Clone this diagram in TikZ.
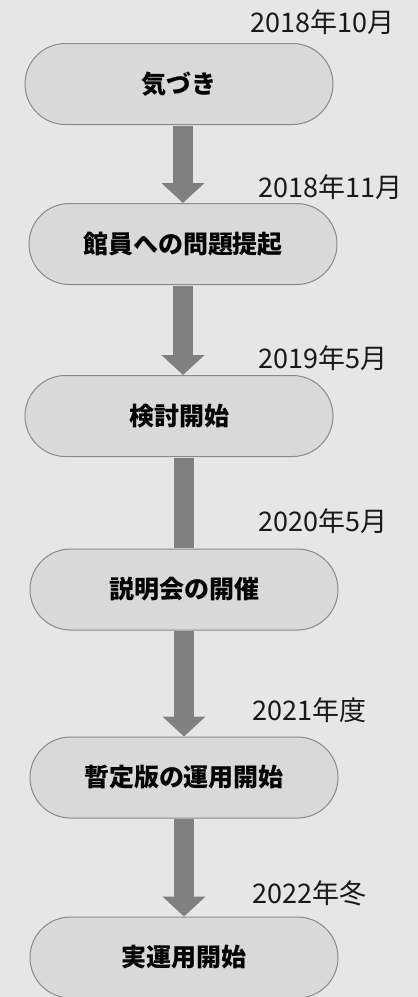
\documentclass[tikz,border=0pt]{standalone}
\usepackage{fontspec}
\setmainfont{Noto Sans CJK JP}
\newfontfamily\jpbold{Noto Sans CJK JP Bold}
\usetikzlibrary{arrows.meta}
\definecolor{bgc}{HTML}{E6E6E6}
\definecolor{boxc}{HTML}{D9D9D9}
\definecolor{linec}{HTML}{8A8A8A}
\definecolor{arrc}{HTML}{808080}
\tikzset{
  stage/.style={draw=linec, line width=1pt, fill=boxc, rounded corners=40.5pt,
    minimum width=308pt, minimum height=81pt, inner sep=0pt,
    font=\fontsize{25pt}{30pt}\selectfont\bfseries, text=black},
  datelbl/.style={anchor=west, inner sep=0pt, font=\fontsize{27pt}{32pt}\selectfont, text=black!90},
  flow/.style={draw=arrc, line width=20pt, -{Triangle[width=42pt,length=20pt]}},
  flowplain/.style={draw=arrc, line width=20pt}
}
\begin{document}
\begin{tikzpicture}[x=1pt,y=-1pt]
\fill[bgc] (0,0) rectangle (418,997);
\useasboundingbox (0,0) rectangle (418,997);
\node[stage] (b1) at (179,84) {気づき};
\node[stage] (b2) at (183,244) {館員への問題提起};
\node[stage] (b3) at (179,416) {検討開始};
\node[stage] (b4) at (184,589.5) {説明会の開催};
\node[stage] (b5) at (184,777.5) {暫定版の運用開始};
\node[stage] (b6) at (184,957.5) {実運用開始};
\draw[flow] ([yshift=-0.5pt]b1.south -| b2.north) -- (b2.north);
\draw[flow] ([yshift=-0.5pt]b2.south) -- (b3.north -| b2.south);
\draw[flowplain] ([yshift=-0.5pt]b3.south -| b4.north) -- ([yshift=0.5pt]b4.north);
\draw[flow] ([yshift=-0.5pt]b4.south) -- (b5.north);
\draw[flow] ([yshift=-0.5pt]b5.south) -- (b6.north);
\node[datelbl] (d1) at (250,22) {2018年10月};
\node[datelbl] (d2) at (258,187) {2018年11月};
\node[datelbl] (d3) at (258,358) {2019年5月};
\node[datelbl] (d4) at (258,521) {2020年5月};
\node[datelbl] (d5) at (252,710) {2021年度};
\node[datelbl] (d6) at (252,893) {2022年冬};
\end{tikzpicture}
\end{document}
